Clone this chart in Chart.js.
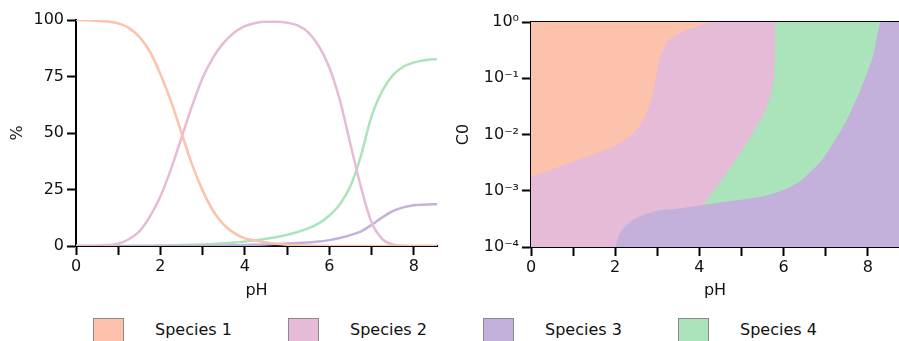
<!DOCTYPE html>
<html>
<head>
<meta charset="utf-8">
<script src="https://cdn.jsdelivr.net/npm/chart.js@4/dist/chart.umd.min.js"></script>
<style>
  body { margin: 0; background: #fff; width: 899px; height: 341px; overflow: hidden; position: relative; font-family: "DejaVu Sans", sans-serif; }
  #fracChart { position: absolute; left: 0; top: 0; }
  #mapChart { position: absolute; left: 450px; top: 0; }
  .key { position: absolute; top: 318px; width: 29px; height: 30px; border: 1px solid #8a8a8a; }
  .keyText { position: absolute; top: 320px; font-size: 16px; line-height: 20px; color: #111; }
</style>
</head>
<body>
<canvas id="fracChart" width="450" height="300"></canvas>
<canvas id="mapChart" width="449" height="300"></canvas>
<div id="legend"></div>
<script>
// species names and colours
const speciesNames = ["Species 1", "Species 2", "Species 3", "Species 4"];
const speciesColors = ["#fcc2ab", "#e6bbd7", "#c3b1dc", "#abe4ba"];

// distribution curves (%)
const phPoints = [0, 0.25, 0.5, 0.75, 1, 1.25, 1.5, 1.75, 2, 2.25, 2.5, 2.75, 3, 3.25, 3.5, 3.75, 4, 4.25, 4.5, 4.75, 5, 5.25, 5.5, 5.75, 6, 6.25, 6.5, 6.75, 7, 7.25, 7.5, 7.75, 8, 8.25, 8.55];
const species1 = [100, 99.9, 99.7, 99.3, 98.5, 96.5, 92.5, 86, 76, 64, 50, 36, 24.5, 15.5, 9.5, 5.7, 3.4, 2.4, 1.6, 1.0, 0.6, 0.35, 0.2, 0.1, 0.05, 0, 0, 0, 0, 0, 0, 0, 0, 0, 0];
const species2 = [0, 0, 0.1, 0.4, 1, 3, 6.5, 13, 22, 34, 48, 62, 74.5, 83.5, 90, 94.5, 97.3, 98.7, 99.2, 99.2, 98.8, 97.6, 94.5, 88.5, 79, 64.5, 45, 26, 10.5, 3.2, 0.7, 0.15, 0, 0, 0];
const species3 = [0, 0, 0, 0, 0, 0, 0, 0, 0, 0, 0, 0, 0, 0.1, 0.2, 0.3, 0.4, 0.55, 0.7, 0.9, 1.1, 1.3, 1.6, 2, 2.6, 3.5, 4.8, 6.5, 9.3, 12.6, 15.4, 17.1, 18, 18.3, 18.5];
const species4 = [0, 0, 0, 0, 0, 0.05, 0.1, 0.15, 0.2, 0.3, 0.4, 0.5, 0.7, 0.9, 1.2, 1.5, 2, 2.5, 3.2, 4, 5, 6.2, 7.8, 10, 13.5, 18.5, 26.5, 40, 57.5, 68.5, 75.5, 79.3, 81.2, 82.2, 82.8];

// predominance map boundaries (pH, C0)
const edge12Ph = [0, 0.5, 1, 1.57, 2.12, 2.51, 2.75, 2.91, 2.99, 3.07, 3.23, 3.46, 3.86, 4.41];
const edge12C = [1.78e-3, 2.4e-3, 3.3e-3, 4.7e-3, 7.1e-3, 1.23e-2, 2.45e-2, 6.3e-2, 0.126, 0.245, 0.427, 0.6, 0.79, 1];
const edge24Ph = [4.09, 4.41, 4.73, 5.04, 5.36, 5.6, 5.75, 5.79, 5.8];
const edge24C = [5.6e-4, 1.2e-3, 2.57e-3, 5.75e-3, 1.41e-2, 3.16e-2, 8.3e-2, 0.219, 1];
const edge23Ph = [2.0, 2.04, 2.12, 2.28, 2.51, 2.75, 3.07, 3.54, 4.09];
const edge23C = [1e-4, 1.26e-4, 1.78e-4, 2.5e-4, 3.3e-4, 3.9e-4, 4.5e-4, 4.9e-4, 5.6e-4];
const edge43Ph = [4.57, 4.96, 5.36, 5.75, 6.07, 6.39, 6.7, 6.94, 7.18, 7.42, 7.65, 7.89, 8.13, 8.32];
const edge43C = [6.3e-4, 6.9e-4, 7.6e-4, 8.9e-4, 1.1e-3, 1.48e-3, 2.4e-3, 3.8e-3, 7.1e-3, 1.41e-2, 3.16e-2, 8.3e-2, 0.263, 1];

// axis ticks
const fracTicks = [0, 25, 50, 75, 100];
const phTicks = [0, 1, 2, 3, 4, 5, 6, 7, 8];
const cDecades = [1e-4, 1e-3, 1e-2, 1e-1, 1];
const cLabels = ["10\u207B\u2074", "10\u207B\u00B3", "10\u207B\u00B2", "10\u207B\u00B9", "10\u2070"];

const PH_MAX_LEFT = 8.55;
const PH_MAX_RIGHT = 8.74;

Chart.defaults.font.family = "'DejaVu Sans', sans-serif";
Chart.defaults.font.size = 16;
Chart.defaults.color = "#111";

const zip = (xs, ys) => xs.map((x, i) => ({ x, y: ys[i] }));

// shared axis look: black 2px border, outward ticks, no grid
const axisGrid = { drawOnChartArea: false, drawTicks: true, tickLength: 9, tickWidth: 2, tickColor: "#000" };
const axisBorder = { display: true, color: "#000", width: 2 };

// left: species distribution vs pH
new Chart(document.getElementById("fracChart"), {
    type: "line",
    data: {
        datasets: [species1, species2, species3, species4].map((vals, i) => ({
            label: speciesNames[i],
            data: zip(phPoints, vals),
            borderColor: speciesColors[i],
            borderWidth: 2.5,
            pointRadius: 0,
            cubicInterpolationMode: "monotone",
            fill: false,
        })),
    },
    options: {
        responsive: false,
        animation: false,
        devicePixelRatio: 1,
        layout: { padding: { top: 20, right: 13, left: 0, bottom: 0 } },
        plugins: { legend: { display: false }, tooltip: { enabled: false } },
        scales: {
            x: {
                type: "linear",
                min: 0,
                max: PH_MAX_LEFT,
                afterBuildTicks: (s) => { s.ticks = phTicks.map((v) => ({ value: v })); },
                ticks: { padding: 2, callback: (v) => (v % 2 === 0 ? String(v) : "") },
                grid: axisGrid,
                border: axisBorder,
                title: { display: true, text: "pH", padding: { top: 0, bottom: 0 } },
                afterFit: (s) => { s.height = 54; },
            },
            y: {
                min: 0,
                max: 100,
                afterBuildTicks: (s) => { s.ticks = fracTicks.map((v) => ({ value: v })); },
                ticks: { padding: 3 },
                grid: axisGrid,
                border: axisBorder,
                title: { display: true, text: "%", padding: { top: 8, bottom: 0 } },
                afterFit: (s) => { s.width = 76; },
            },
        },
    },
});

// right: predominance regions, each layer filled down to the axis
const topLine = (ph, c) => zip(ph, c).concat([{ x: PH_MAX_RIGHT, y: 1 }]);
const mapLayers = [
    { color: speciesColors[0], data: [{ x: 0, y: 1 }, { x: PH_MAX_RIGHT, y: 1 }], order: 4 },
    { color: speciesColors[1], data: topLine(edge12Ph, edge12C), order: 3 },
    { color: speciesColors[3], data: topLine(edge24Ph, edge24C), order: 2 },
    { color: speciesColors[2], data: topLine(edge23Ph.concat(edge43Ph), edge23C.concat(edge43C)), order: 1 },
];

new Chart(document.getElementById("mapChart"), {
    type: "line",
    data: {
        datasets: mapLayers.map((l) => ({
            data: l.data,
            order: l.order,
            backgroundColor: l.color,
            borderColor: l.color,
            borderWidth: 0,
            pointRadius: 0,
            cubicInterpolationMode: "monotone",
            fill: "start",
        })),
    },
    options: {
        responsive: false,
        animation: false,
        devicePixelRatio: 1,
        layout: { padding: { top: 22, right: 0, left: 0, bottom: 0 } },
        plugins: { legend: { display: false }, tooltip: { enabled: false } },
        scales: {
            x: {
                type: "linear",
                min: 0,
                max: PH_MAX_RIGHT,
                afterBuildTicks: (s) => { s.ticks = phTicks.map((v) => ({ value: v })); },
                ticks: { padding: 2, callback: (v) => (v % 2 === 0 ? String(v) : "") },
                grid: axisGrid,
                border: axisBorder,
                title: { display: true, text: "pH", padding: { top: 0, bottom: 0 } },
                afterFit: (s) => { s.height = 53; },
            },
            xTop: {
                type: "linear",
                position: "top",
                min: 0,
                max: PH_MAX_RIGHT,
                ticks: { display: false },
                grid: { drawOnChartArea: false, drawTicks: false },
                border: axisBorder,
                afterFit: (s) => { s.height = 0; },
            },
            y: {
                type: "logarithmic",
                min: 1e-4,
                max: 1,
                afterBuildTicks: (s) => { s.ticks = cDecades.map((v) => ({ value: v })); },
                ticks: { padding: 3, callback: (v) => cLabels[Math.round(Math.log10(v)) + 4] },
                grid: axisGrid,
                border: axisBorder,
                title: { display: true, text: "C0", padding: { top: 4, bottom: 0 } },
                afterFit: (s) => { s.width = 81; },
            },
        },
    },
});

// legend row under both panels
const legend = document.getElementById("legend");
speciesNames.forEach((name, i) => {
    const left = 93 + i * 195;
    const box = document.createElement("div");
    box.className = "key";
    box.style.left = left + "px";
    box.style.background = speciesColors[i];
    const txt = document.createElement("div");
    txt.className = "keyText";
    txt.style.left = (left + 62) + "px";
    txt.textContent = name;
    legend.appendChild(box);
    legend.appendChild(txt);
});
</script>
</body>
</html>
